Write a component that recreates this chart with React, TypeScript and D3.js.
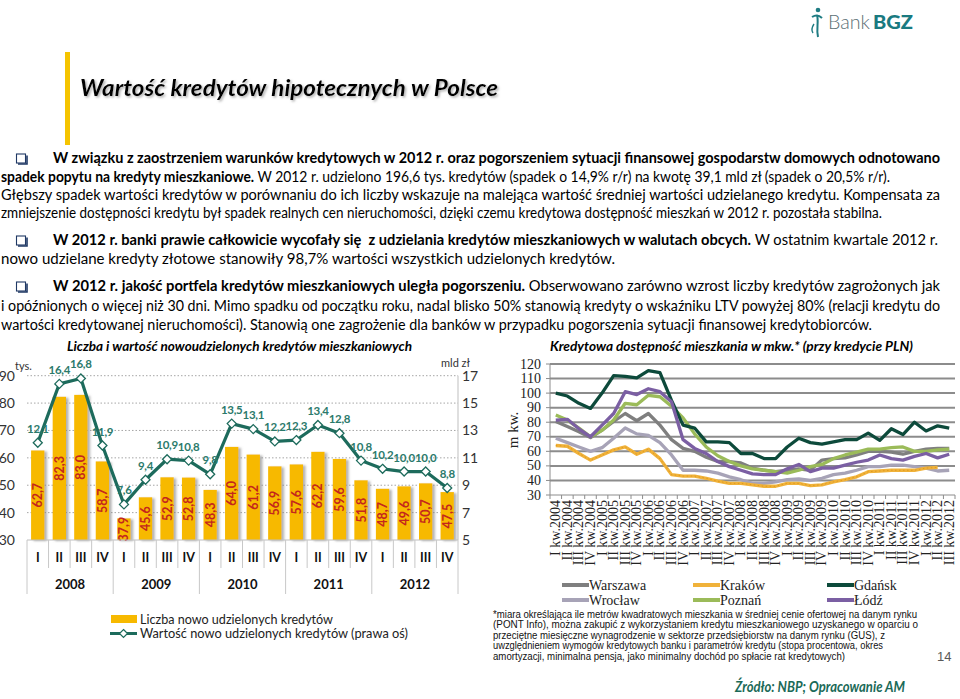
import React from "react";
import * as d3 from "d3";

const W = 960;
const H = 699;

// ---- left chart: liczba i wartość kredytów ----
const quarters = ["I", "II", "III", "IV", "I", "II", "III", "IV", "I", "II", "III", "IV", "I", "II", "III", "IV", "I", "II", "III", "IV"];
const years = ["2008", "2009", "2010", "2011", "2012"];
const loanCount = [62.7, 82.3, 83.0, 58.7, 37.9, 45.6, 52.9, 52.8, 48.3, 64.0, 61.2, 56.9, 57.6, 62.2, 59.6, 51.8, 48.7, 49.6, 50.7, 47.5];
const loanValue = [12.1, 16.4, 16.8, 11.9, 7.6, 9.4, 10.9, 10.8, 9.8, 13.5, 13.1, 12.2, 12.3, 13.4, 12.8, 10.8, 10.2, 10.0, 10.0, 8.8];
const leftTicks = [30, 40, 50, 60, 70, 80, 90];
const rightTicks = [5, 7, 9, 11, 13, 15, 17];

// ---- right chart: kredytowa dostępność ----
const periods = [
  "I kw.2004", "II kw.2004", "III kw.2004", "IV kw.2004",
  "I kw.2005", "II kw.2005", "III kw.2005", "IV kw.2005",
  "I kw.2006", "II kw.2006", "III kw.2006", "IV kw.2006",
  "I kw.2007", "II kw.2007", "III kw.2007", "IV kw.2007",
  "I kw.2008", "II kw.2008", "III kw.2008", "IV kw.2008",
  "I kw.2009", "II kw.2009", "III kw.2009", "IV kw.2009",
  "I kw.2010", "II kw.2010", "III kw.2010", "IV kw.2010",
  "I kw.2011", "II kw.2011", "III kw.2011", "IV kw.2011",
  "I kw.2012", "II kw.2012", "III kw.2012",
];
const warszawa = [80.5, 77, 73.5, 69.5, 74.5, 80.5, 86, 81, 86, 78, 68, 62, 60, 56, 53, 53, 52, 48.5, 47, 46, 47, 48, 47, 54, 55, 55.5, 57.5, 60, 60, 59.5, 58, 60, 61.5, 62, 62];
const wroclaw = [69, 66, 63, 60, 62.5, 69, 76, 72, 71, 66, 57.5, 47, 47, 46.5, 45, 42.5, 40.5, 38, 38, 39, 40.5, 41, 40, 41.5, 44, 45, 47, 49.5, 49.5, 50.5, 50.5, 49.5, 48.5, 46.5, 47];
const krakow: (number | null)[] = [64, 63.5, 58.5, 54, 57.5, 61, 63, 58, 61.5, 55, 44, 43, 43, 41.5, 39.5, 38, 38, 37, 36, 36, 38, 38, 36.5, 37, 39, 40.5, 42.5, 46, 46.5, 47, 47, 47, 48.5, 49, null];
const poznan = [85, 81.5, 76, 70, 74.5, 81.5, 93, 92, 98.5, 97.5, 91, 83, 72, 63, 57, 53, 50, 48, 47, 46, 45, 47, 49.5, 51, 55, 57.5, 59.5, 61.5, 61.5, 62.5, 63, 60, 60, 61, 61.5];
const gdansk = [100, 98, 93, 89.5, 100, 112, 111.5, 110.5, 115.5, 114, 95, 78, 76, 66.5, 66.5, 66, 58.5, 58.5, 55, 55, 63, 69, 66, 65, 66.5, 68, 68, 72.5, 67.5, 75.5, 71.5, 80, 74, 77.5, 76];
const lodz = [81.5, 82, 75.5, 70, 78, 86, 101, 99, 103, 101, 94, 68, 62, 58.5, 53, 49.5, 47, 44.5, 44, 44, 48, 51, 46, 48.5, 48.5, 50.5, 52.5, 54, 57.5, 55, 54, 56.5, 58.5, 55.5, 58];
const cityTicks = [30, 40, 50, 60, 70, 80, 90, 100, 110, 120];

const cities = [
  { name: "Warszawa", values: warszawa, color: "#7f7f7f" },
  { name: "Wrocław", values: wroclaw, color: "#a7a3b7" },
  { name: "Kraków", values: krakow, color: "#f0b23a" },
  { name: "Poznań", values: poznan, color: "#9bbb59" },
  { name: "Gdańsk", values: gdansk, color: "#0d4a3b" },
  { name: "Łódź", values: lodz, color: "#7b5fa3" },
];

// ---- slide text ----
const bodyLines = [
  { x: 53, y: 163, end: 940, parts: [{ t: "W związku z zaostrzeniem warunków kredytowych w 2012 r. oraz pogorszeniem sytuacji finansowej gospodarstw domowych odnotowano", b: true }] },
  { x: 1, y: 181.5, end: 890, parts: [{ t: "spadek popytu na kredyty mieszkaniowe.", b: true }, { t: " W 2012 r. udzielono 196,6 tys. kredytów (spadek o 14,9% r/r) na kwotę 39,1 mld zł (spadek o 20,5% r/r).", b: false }] },
  { x: 1, y: 200, end: 940, parts: [{ t: "Głębszy spadek wartości kredytów w porównaniu do ich liczby wskazuje na malejąca wartość średniej wartości udzielanego kredytu. Kompensata za", b: false }] },
  { x: 1, y: 218, end: 882, parts: [{ t: "zmniejszenie dostępności kredytu był spadek realnych cen nieruchomości, dzięki czemu kredytowa dostępność mieszkań w 2012 r. pozostała stabilna.", b: false }] },
  { x: 53, y: 245, end: 938, parts: [{ t: "W 2012 r. banki prawie całkowicie wycofały się  z udzielania kredytów mieszkaniowych w walutach obcych.", b: true }, { t: " W ostatnim kwartale 2012 r.", b: false }] },
  { x: 1, y: 264, end: 615, parts: [{ t: "nowo udzielane kredyty złotowe stanowiły 98,7% wartości wszystkich udzielonych kredytów.", b: false }] },
  { x: 53, y: 291, end: 940, parts: [{ t: "W 2012 r. jakość portfela kredytów mieszkaniowych uległa pogorszeniu.", b: true }, { t: " Obserwowano zarówno wzrost liczby kredytów zagrożonych jak", b: false }] },
  { x: 1, y: 310.5, end: 940, parts: [{ t: "i opóźnionych o więcej niż 30 dni. Mimo spadku od początku roku, nadal blisko 50% stanowią kredyty o wskaźniku LTV powyżej 80% (relacji kredytu do", b: false }] },
  { x: 1, y: 330, end: 872, parts: [{ t: "wartości kredytowanej nieruchomości). Stanowią one zagrożenie dla banków w przypadku pogorszenia sytuacji finansowej kredytobiorców.", b: false }] },
];
const bulletRows = [158.5, 240.5, 286.5];

const footnote = [
  { t: "*miara określająca ile metrów kwadratowych mieszkania w średniej cenie ofertowej na danym rynku", end: 917 },
  { t: "(PONT Info), można zakupić z wykorzystaniem kredytu mieszkaniowego uzyskanego w oparciu o", end: 918 },
  { t: "przeciętne miesięczne wynagrodzenie w sektorze przedsiębiorstw na danym rynku (GUS), z", end: 885 },
  { t: "uwzględnieniem wymogów kredytowych banku i parametrów kredytu (stopa procentowa, okres", end: 883 },
  { t: "amortyzacji, minimalna pensja, jako minimalny dochód po spłacie rat kredytowych)", end: 845 },
];

const SANS = "Lato, 'Open Sans', sans-serif";
const SERIF = "'Liberation Serif', 'DejaVu Serif', serif";
const ARIAL = "'Liberation Sans', Arial, sans-serif";

const BAR = "#f7b900";
const LINE = "#1d6b5c";
const fmt = (v: number) => v.toFixed(1).replace(".", ",");

function LeftChart() {
  const x0 = 27, x1 = 458, yTop = 375.7, yBot = 540;
  const x = d3.scaleBand<number>().domain(d3.range(loanCount.length)).range([x0, x1]);
  const bw = x.bandwidth();
  const yL = d3.scaleLinear().domain([30, 90]).range([yBot, yTop]);
  const yR = d3.scaleLinear().domain([5, 17]).range([yBot, yTop]);
  const cx = (i: number) => (x(i) as number) + bw / 2;
  const line = d3.line<number>().x((_, i) => cx(i)).y((d) => yR(d));

  return (
    <g fontFamily={SANS}>
      <text x={67} y={351} fontSize={13} fontWeight={700} fontStyle="italic" textLength={345} lengthAdjust="spacingAndGlyphs">
        Liczba i wartość nowoudzielonych kredytów mieszkaniowych
      </text>
      {leftTicks.filter((t) => t > 30).map((t) => (
        <line key={t} x1={x0} x2={x1} y1={yL(t)} y2={yL(t)} stroke="#a6a6a6" strokeDasharray="1.5,2" />
      ))}
      {leftTicks.map((t) => (
        <text key={t} x={15} y={yL(t) + 5} fontSize={14} textAnchor="end" fill="#333">{t}</text>
      ))}
      {rightTicks.map((t) => (
        <text key={t} x={462} y={yR(t) + 5} fontSize={14} fill="#333">{t}</text>
      ))}
      <text x={15} y={370} fontSize={11} fill="#333">tys.</text>
      <text x={441} y={367} fontSize={11} fill="#333">mld zł</text>
      <line x1={x1} x2={x1} y1={yTop} y2={yBot} stroke="#bfbfbf" />

      {loanCount.map((v, i) => (
        <rect key={i} x={cx(i) - bw * 0.31} y={yL(v)} width={bw * 0.62} height={yBot - yL(v)} fill={BAR} filter="url(#barShadow)" />
      ))}
      {loanCount.map((v, i) => {
        const my = (yL(v) + yBot) / 2;
        return (
          <text key={i} x={cx(i)} y={my} transform={`rotate(-90 ${cx(i)} ${my})`} textAnchor="middle" dominantBaseline="central"
            fontSize={12.5} fontWeight={700} fill="#c4261d">{fmt(v)}</text>
        );
      })}

      <line x1={x0} x2={x1} y1={yBot} y2={yBot} stroke="#bfbfbf" />
      <path d={line(loanValue) || ""} fill="none" stroke={LINE} strokeWidth={3.2} strokeLinejoin="round" />
      {loanValue.map((v, i) => (
        <path key={i} d={`M${cx(i)},${yR(v) - 4.5}L${cx(i) + 4.5},${yR(v)}L${cx(i)},${yR(v) + 4.5}L${cx(i) - 4.5},${yR(v)}Z`}
          fill="#fff" stroke={LINE} strokeWidth={1.3} />
      ))}
      {loanValue.map((v, i) => (
        <text key={i} x={cx(i)} y={yR(v) - 10} textAnchor="middle" fontSize={11.5} fontWeight={700} letterSpacing={-0.3} fill="#2b7a6b">{fmt(v)}</text>
      ))}

      {d3.range(loanCount.length + 1).map((i) => (
        <line key={i} x1={x0 + i * bw} x2={x0 + i * bw} y1={yBot} y2={i % 4 === 0 ? 594 : 568} stroke="#c8c8c8" />
      ))}
      {quarters.map((q, i) => (
        <text key={i} x={cx(i)} y={562} textAnchor="middle" fontSize={12.5} fontWeight={700} fill="#111">{q}</text>
      ))}
      {years.map((yv, k) => (
        <text key={yv} x={x0 + (k * 4 + 2) * bw} y={589} textAnchor="middle" fontSize={13} fontWeight={700} fill="#111">{yv}</text>
      ))}

      <rect x={111} y={615} width={26} height={8} fill={BAR} />
      <text x={140} y={623.5} fontSize={13.5} fill="#222" textLength={193} lengthAdjust="spacingAndGlyphs">Liczba nowo udzielonych kredytów</text>
      <line x1={110} x2={137} y1={633.5} y2={633.5} stroke={LINE} strokeWidth={3} />
      <path d="M123.5,629.5L127.5,633.5L123.5,637.5L119.5,633.5Z" fill="#fff" stroke={LINE} strokeWidth={1.2} />
      <text x={140} y={638} fontSize={13.5} fill="#222" textLength={268} lengthAdjust="spacingAndGlyphs">Wartość nowo udzielonych kredytów (prawa oś)</text>
    </g>
  );
}

function RightChart() {
  const x0 = 550, x1 = 955, yTop = 364, yBot = 495;
  const x = d3.scaleBand<string>().domain(periods).range([x0, x1]);
  const bw = x.bandwidth();
  const y = d3.scaleLinear().domain([30, 120]).range([yBot, yTop]);
  const cx = (i: number) => (x(periods[i]) as number) + bw / 2;
  const line = d3.line<number | null>().defined((d) => d != null).x((_, i) => cx(i)).y((d) => y(d as number));

  return (
    <g>
      <text x={550} y={351} fontFamily={SANS} fontSize={13} fontWeight={700} fontStyle="italic" textLength={363} lengthAdjust="spacingAndGlyphs">
        Kredytowa dostępność mieszkania w mkw.* (przy kredycie PLN)
      </text>
      {cityTicks.map((t) => (
        <line key={t} x1={x0} x2={x1} y1={y(t)} y2={y(t)} stroke="#8c8c8c" strokeWidth={t === 30 ? 1 : 2} />
      ))}
      <line x1={x0} x2={x0} y1={yTop} y2={yBot} stroke="#8c8c8c" />
      {cityTicks.map((t) => (
        <g key={t}>
          <line x1={x0 - 4} x2={x0} y1={y(t)} y2={y(t)} stroke="#8c8c8c" />
          <text x={541} y={y(t) + 4.5} fontFamily={SERIF} fontSize={14} textAnchor="end" fill="#222">{t}</text>
        </g>
      ))}
      {d3.range(periods.length + 1).map((i) => (
        <line key={i} x1={x0 + i * bw} x2={x0 + i * bw} y1={yBot} y2={yBot + 4} stroke="#8c8c8c" />
      ))}
      <text x={513} y={430} transform="rotate(-90 513 430)" fontFamily={SERIF} fontSize={15} textAnchor="middle" dominantBaseline="central" fill="#222">m kw.</text>
      {periods.map((p, i) => (
        <text key={p} x={cx(i)} y={500} transform={`rotate(-90 ${cx(i)} 500)`} fontFamily={SERIF} fontSize={14}
          textAnchor="end" dominantBaseline="central" fill="#222">{p}</text>
      ))}

      {cities.map((c) => (
        <path key={c.name} d={line(c.values) || ""} fill="none" stroke={c.color} strokeWidth={3.3} strokeLinejoin="round" />
      ))}
      <path d={line(krakow) || ""} fill="none" stroke="#e09a20" strokeWidth={1} strokeDasharray="1.5,2.5" />

      {cities.map((c, k) => {
        const col = Math.floor(k / 2);
        const row = k % 2;
        const lx = [562, 693, 827][col];
        const ly = 585 + row * 15;
        return (
          <g key={c.name}>
            <line x1={lx} x2={lx + 27} y1={ly} y2={ly} stroke={c.color} strokeWidth={4} />
            <text x={lx + 27} y={ly + 4.5} fontFamily={SERIF} fontSize={14} fill="#222">{c.name}</text>
          </g>
        );
      })}
      {footnote.map((f, i) => (
        <text key={i} x={493} y={617.5 + i * 10.6} fontFamily={ARIAL} fontSize={10} fill="#111" textLength={f.end - 493} lengthAdjust="spacingAndGlyphs">{f.t}</text>
      ))}
    </g>
  );
}

export default function App() {
  return (
    <svg width={W} height={H} viewBox={`0 0 ${W} ${H}`} style={{ position: "absolute", left: 0, top: 0, background: "#fff" }}>
      <defs>
        <filter id="barShadow" x="-30%" y="-10%" width="170%" height="130%">
          <feDropShadow dx={2.5} dy={1} stdDeviation={1.3} floodColor="#7f7f7f" floodOpacity={0.6} />
        </filter>
        <filter id="titleShadow" x="-5%" y="-30%" width="110%" height="170%">
          <feDropShadow dx={1.5} dy={1.5} stdDeviation={0.8} floodColor="#8c8c8c" floodOpacity={0.7} />
        </filter>
      </defs>
      <rect width={W} height={H} fill="#fff" />

      {/* logo */}
      <g>
        <circle cx={818} cy={10} r={2.3} fill="#1f7c83" />
        <path d="M812,17 C815,15 819,15 822,18" fill="none" stroke="#1f7c83" strokeWidth={2} />
        <path d="M817,15 C819,22 816,28 818,37" fill="none" stroke="#1f7c83" strokeWidth={2} />
        <path d="M814,24 C812,27 811,30 813,33" fill="none" stroke="#1f7c83" strokeWidth={1.4} />
        <text x={828} y={29} fontFamily={SANS} fontSize={19} fontWeight={300} fill="#5b6f74" textLength={42} lengthAdjust="spacingAndGlyphs">Bank</text>
        <text x={873} y={29} fontFamily={SANS} fontSize={19} fontWeight={900} fill="#1a7a80" textLength={40} lengthAdjust="spacingAndGlyphs">BGZ</text>
      </g>

      <rect x={65} y={52} width={5} height={93} fill="#f5c400" />
      <text x={80} y={96} fontFamily={SANS} fontSize={22} fontWeight={700} fontStyle="italic" fill="#000" filter="url(#titleShadow)"
        textLength={418} lengthAdjust="spacingAndGlyphs">Wartość kredytów hipotecznych w Polsce</text>

      {bulletRows.map((by, i) => (
        <g key={i}>
          <rect x={16.5} y={by - 4.5} width={9} height={9} fill="none" stroke="#1f3864" strokeWidth={1.1} />
          <path d={`M18,${by + 5.5}H27V${by - 3}`} fill="none" stroke="#1f3864" strokeWidth={1.6} />
        </g>
      ))}
      <g fontFamily={SANS} fontSize={14.5} fill="#000">
        {bodyLines.map((l, i) => (
          <text key={i} x={l.x} y={l.y} textLength={l.end - l.x} lengthAdjust="spacingAndGlyphs" style={{ whiteSpace: "pre" }}>
            {l.parts.map((p, j) => (
              <tspan key={j} fontWeight={p.b ? 700 : 400}>{p.t}</tspan>
            ))}
          </text>
        ))}
      </g>

      <LeftChart />
      <RightChart />

      <text x={937} y={661} fontFamily={ARIAL} fontSize={13} fill="#595959">14</text>
      <text x={735} y={692} fontFamily={SANS} fontSize={14.5} fontWeight={700} fontStyle="italic" fill="#1b6a58"
        textLength={170} lengthAdjust="spacingAndGlyphs">Źródło: NBP; Opracowanie AM</text>
    </svg>
  );
}
